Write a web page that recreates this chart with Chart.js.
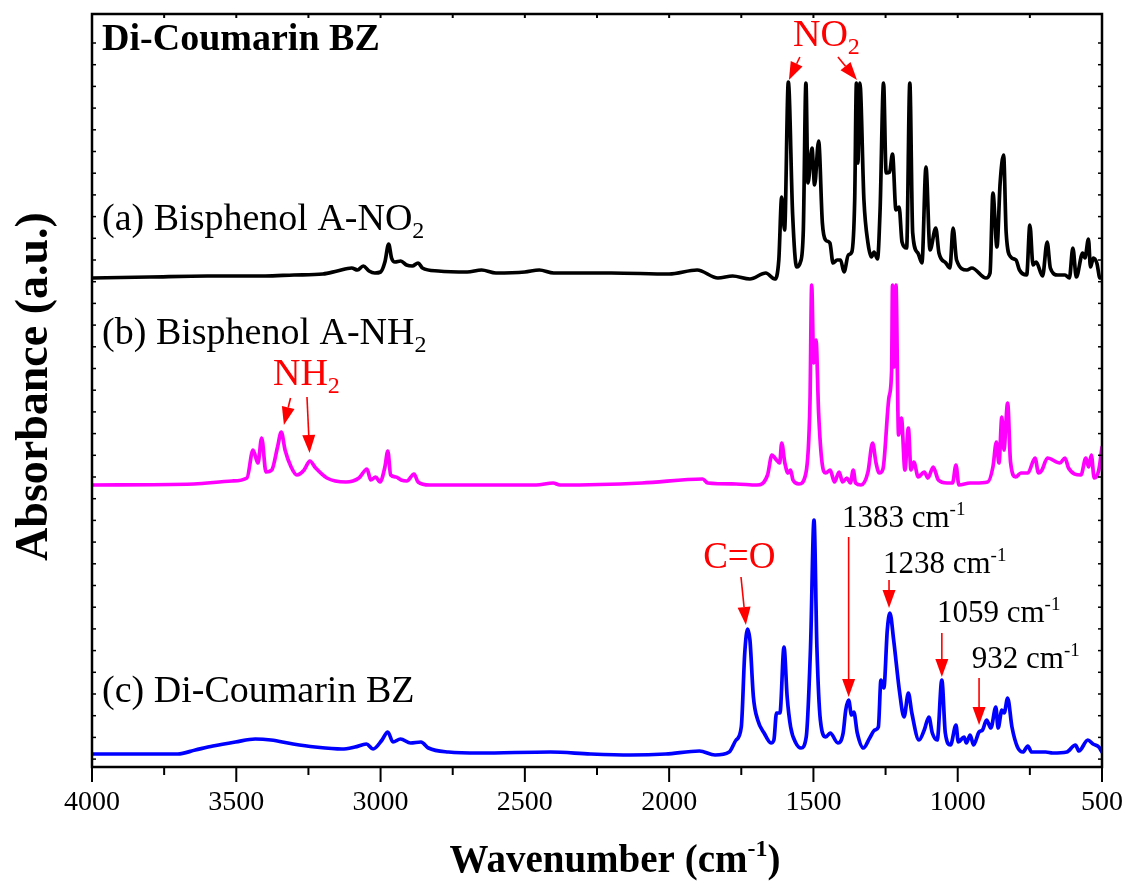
<!DOCTYPE html>
<html><head><meta charset="utf-8">
<script src="https://cdn.jsdelivr.net/npm/chart.js@4.4.1/dist/chart.umd.min.js"></script>
<style>html,body{margin:0;padding:0;background:#fff}#wrap{width:1131px;height:884px}</style>
</head><body><div id="wrap"><canvas id="c" width="1131" height="884"></canvas></div>
<script>
// ---- Data (wavenumber in cm-1, absorbance in a.u., traces already offset as plotted) ----
const wnA = [4000,3800,3600,3400,3300,3200,3150,3100,3080,3060,3040,3020,3000,2985,2972,2962,2950,2930,2910,2890,2870,2855,2800,2700,2650,2600,2500,2450,2400,2200,2000,1903,1831,1780,1720,1665,1634,1620,1610,1600,1587,1572,1558,1545,1535,1526,1519,1505,1496,1482,1469,1458,1443,1432,1418,1406,1394,1379,1367,1357,1351,1346,1339,1325,1311,1299,1290,1278,1269,1257,1248,1236,1226,1214,1203,1193,1177,1166,1156,1138,1124,1110,1096,1076,1065,1041,1027,1016,1004,968,951,902,888,878,864,853,841,832,816,798,786,761,750,739,728,706,690,679,653,628,613,601,589,567,559,547,540,530,518,507,500];
const absA = [4.89,4.90,4.91,4.91,4.92,4.93,4.96,4.99,4.97,5.01,4.96,4.94,4.95,5.05,5.23,5.09,5.05,5.06,5.02,5.01,5.04,4.99,4.96,4.95,4.97,4.94,4.95,4.97,4.94,4.94,4.93,4.97,4.89,4.91,4.88,4.94,4.88,5.07,5.70,5.37,6.85,5.52,5.00,5.05,5.37,6.84,5.84,6.19,5.82,6.26,5.44,5.27,5.24,5.04,5.07,5.07,4.95,5.12,5.15,5.67,6.84,6.04,6.84,5.67,5.24,5.10,5.15,5.08,5.57,6.84,5.94,5.95,6.13,5.57,5.60,5.25,5.19,6.84,5.34,5.14,5.04,6.00,5.17,5.39,5.14,5.04,4.99,5.39,5.07,4.97,4.99,4.89,4.94,5.74,5.20,5.84,6.12,5.34,5.10,5.07,4.97,4.92,5.42,5.02,5.05,4.91,5.25,4.99,4.92,4.92,4.89,5.19,4.90,5.14,5.09,5.28,5.00,5.09,5.04,4.89,4.89];

const wnB = [4000,3647,3515,3463,3442,3425,3412,3397,3377,3357,3344,3331,3310,3290,3265,3245,3225,3186,3120,3075,3047,3034,3017,3002,2985,2975,2965,2947,2929,2909,2884,2870,2830,2461,2402,2378,2094,1884,1866,1768,1696,1659,1644,1628,1617,1610,1599,1588,1579,1571,1550,1526,1512,1506,1499,1491,1482,1470,1457,1442,1427,1411,1399,1384,1372,1362,1354,1335,1311,1295,1283,1272,1259,1238,1229,1226,1220,1214,1205,1195,1183,1171,1162,1152,1137,1116,1103,1085,1067,1037,1018,1006,996,957,940,896,878,866,857,847,840,827,817,799,781,757,732,720,708,689,646,628,616,573,556,546,537,527,511,500];
const absB = [2.82,2.83,2.86,2.89,3.17,3.04,3.29,2.95,2.97,3.20,3.35,3.17,3.00,2.92,2.97,3.06,2.99,2.89,2.85,2.89,2.98,2.87,2.90,2.85,3.00,3.16,2.92,2.90,2.87,2.86,2.93,2.85,2.82,2.82,2.84,2.82,2.84,2.88,2.84,2.83,2.82,2.92,3.12,3.07,3.04,3.24,3.04,2.94,2.97,2.87,2.83,2.94,3.64,4.82,4.04,4.27,3.54,3.04,2.94,2.97,2.85,2.95,2.85,2.89,2.84,2.97,2.84,2.82,2.95,3.24,3.04,2.94,2.98,3.70,3.97,4.82,4.00,4.82,3.32,3.49,2.97,3.39,2.97,3.05,2.90,2.95,2.89,3.00,2.87,2.84,2.84,3.02,2.82,2.84,2.84,2.85,3.00,3.25,3.04,3.50,3.17,3.64,3.05,2.90,2.94,2.94,3.09,2.94,2.97,3.09,3.04,3.09,2.99,2.92,3.09,3.00,3.12,2.89,2.97,3.20];

const wnC = [4000,3703,3642,3581,3503,3434,3380,3303,3227,3134,3089,3049,3026,2995,2975,2957,2931,2896,2860,2834,2765,2657,2411,2272,2134,2012,1895,1841,1792,1768,1750,1738,1728,1720,1708,1693,1671,1647,1637,1628,1616,1602,1591,1579,1561,1543,1525,1510,1498,1488,1476,1457,1442,1415,1397,1388,1378,1368,1360,1348,1327,1305,1287,1275,1266,1256,1244,1235,1222,1201,1186,1171,1159,1134,1116,1100,1088,1071,1055,1043,1025,1006,998,978,970,957,945,926,914,900,885,868,860,847,839,827,812,793,774,757,744,695,671,622,592,580,549,531,511,500];
const absC = [0.13,0.13,0.17,0.21,0.25,0.28,0.27,0.23,0.20,0.18,0.20,0.23,0.18,0.27,0.35,0.25,0.28,0.24,0.25,0.19,0.15,0.14,0.15,0.13,0.12,0.13,0.16,0.12,0.15,0.27,0.40,1.14,1.38,1.27,0.70,0.47,0.34,0.24,0.27,0.54,0.54,1.20,0.70,0.40,0.24,0.19,0.30,1.20,2.47,1.20,0.47,0.30,0.34,0.24,0.34,0.57,0.67,0.52,0.55,0.34,0.19,0.29,0.37,0.40,0.87,0.79,1.37,1.54,1.27,0.74,0.50,0.74,0.54,0.27,0.37,0.50,0.34,0.27,0.87,0.34,0.22,0.42,0.25,0.30,0.24,0.32,0.22,0.35,0.37,0.47,0.39,0.60,0.39,0.57,0.54,0.69,0.40,0.20,0.15,0.21,0.15,0.15,0.14,0.15,0.22,0.16,0.27,0.23,0.20,0.15];

const seriesNames = ['(a) Bisphenol A-NO2', '(b) Bisphenol A-NH2', '(c) Di-Coumarin BZ'];
const xTickValues = [4000, 3500, 3000, 2500, 2000, 1500, 1000, 500];
const yTitle = 'Absorbance (a.u.)';
const chartTitle = 'Di-Coumarin BZ';

// ---- Annotation layout (in data coordinates) ----
const SERIF = '"Liberation Serif","Times New Roman",serif';
const textItems = [
  {parts:[[chartTitle,0]], x:3965, y:7.17, size:38, weight:'bold', color:'#000'},
  {parts:[['(a) Bisphenol A-NO',0],['2',1]], x:3965, y:5.37, size:38, weight:'normal', color:'#000'},
  {parts:[['(b) Bisphenol A-NH',0],['2',1]], x:3965, y:4.23, size:38, weight:'normal', color:'#000'},
  {parts:[['(c) Di-Coumarin BZ',0]], x:3965, y:0.65, size:38, weight:'normal', color:'#000'},
  {parts:[['NO',0],['2',1]], x:1571, y:7.21, size:38, weight:'normal', color:'#ff0000'},
  {parts:[['NH',0],['2',1]], x:3373, y:3.82, size:38, weight:'normal', color:'#ff0000'},
  {parts:[['C=O',0]], x:1882, y:1.99, size:37, weight:'normal', color:'#ff0000'},
  {parts:[['1383 cm',0],['-1',2]], x:1401, y:2.40, size:31, weight:'normal', color:'#000'},
  {parts:[['1238 cm',0],['-1',2]], x:1259, y:1.94, size:31, weight:'normal', color:'#000'},
  {parts:[['1059 cm',0],['-1',2]], x:1072, y:1.45, size:31, weight:'normal', color:'#000'},
  {parts:[['932 cm',0],['-1',2]], x:951, y:0.99, size:31, weight:'normal', color:'#000'}
];
const arrows = [
  {x1:1547, y1:7.10, x2:1585, y2:6.87},
  {x1:1415, y1:7.10, x2:1349, y2:6.87},
  {x1:3312, y1:3.69, x2:3335, y2:3.42},
  {x1:3255, y1:3.70, x2:3246, y2:3.14},
  {x1:1751, y1:1.90, x2:1734, y2:1.42},
  {x1:1378, y1:2.30, x2:1378, y2:0.70},
  {x1:1238, y1:1.87, x2:1238, y2:1.59},
  {x1:1055, y1:1.34, x2:1055, y2:0.90},
  {x1:926, y1:0.89, x2:926, y2:0.42}
];

function toPoints(xs, ys) { return xs.map((v, i) => ({x: v, y: ys[i]})); }

function drawRich(ctx, parts, x, y, size, weight, color, align) {
  const fontFor = m => `${weight} ${m ? Math.round(size * 0.62) : size}px ${SERIF}`;
  let w = 0;
  parts.forEach(([t, m]) => { ctx.font = fontFor(m); w += ctx.measureText(t).width; });
  let cx = align === 'center' ? x - w / 2 : x;
  ctx.fillStyle = color; ctx.textAlign = 'left'; ctx.textBaseline = 'alphabetic';
  parts.forEach(([t, m]) => {
    ctx.font = fontFor(m);
    const dy = m === 1 ? size * 0.22 : (m === 2 ? -size * 0.40 : 0);
    ctx.fillText(t, cx, y + dy);
    cx += ctx.measureText(t).width;
  });
}

function drawArrow(ctx, x1, y1, x2, y2) {
  const ang = Math.atan2(y2 - y1, x2 - x1);
  const hl = 18, hw = 6.5;
  const bx = x2 - hl * Math.cos(ang), by = y2 - hl * Math.sin(ang);
  ctx.strokeStyle = '#ff0000'; ctx.fillStyle = '#ff0000'; ctx.lineWidth = 1.6;
  ctx.beginPath(); ctx.moveTo(x1, y1); ctx.lineTo(bx, by); ctx.stroke();
  ctx.beginPath();
  ctx.moveTo(x2, y2);
  ctx.lineTo(bx + hw * Math.sin(ang), by - hw * Math.cos(ang));
  ctx.lineTo(bx - hw * Math.sin(ang), by + hw * Math.cos(ang));
  ctx.closePath(); ctx.fill();
}

const framePlugin = {
  id: 'frame',
  afterDraw(chart) {
    const {ctx, chartArea: a, scales: {x, y}} = chart;
    ctx.save();
    ctx.strokeStyle = '#000'; ctx.lineWidth = 2.5;
    ctx.strokeRect(a.left, a.top, a.right - a.left, a.bottom - a.top);
    ctx.lineWidth = 2;
    for (let v = 500; v <= 4000; v += 250) {
      const px = x.getPixelForValue(v);
      const major = v % 500 === 0;
      ctx.beginPath(); ctx.moveTo(px, a.bottom); ctx.lineTo(px, a.bottom + (major ? 15 : 8)); ctx.stroke();
      ctx.beginPath(); ctx.moveTo(px, a.top); ctx.lineTo(px, a.top + 4); ctx.stroke();
    }
    ctx.lineWidth = 1.5;
    for (let v = 7.24; v > 0.05; v -= 0.217) {
      const py = y.getPixelForValue(v);
      ctx.beginPath(); ctx.moveTo(a.left, py); ctx.lineTo(a.left + 4, py); ctx.stroke();
      ctx.beginPath(); ctx.moveTo(a.right, py); ctx.lineTo(a.right - 4, py); ctx.stroke();
    }
    textItems.forEach(t => drawRich(ctx, t.parts, x.getPixelForValue(t.x), y.getPixelForValue(t.y), t.size, t.weight, t.color, 'left'));
    arrows.forEach(r => drawArrow(ctx, x.getPixelForValue(r.x1), y.getPixelForValue(r.y1), x.getPixelForValue(r.x2), y.getPixelForValue(r.y2)));
    drawRich(ctx, [['Wavenumber (cm',0],['-1',2],[')',0]], (a.left + a.right) / 2 + 18, 872, 39, 'bold', '#000', 'center');
    ctx.translate(47, (a.top + a.bottom) / 2 - 4);
    ctx.rotate(-Math.PI / 2);
    drawRich(ctx, [[yTitle,0]], 0, 0, 46, 'bold', '#000', 'center');
    ctx.restore();
  }
};

new Chart(document.getElementById('c'), {
  type: 'line',
  data: {
    datasets: [
      {label: seriesNames[0], data: toPoints(wnA, absA), borderColor: '#000000'},
      {label: seriesNames[1], data: toPoints(wnB, absB), borderColor: '#ff00ff'},
      {label: seriesNames[2], data: toPoints(wnC, absC), borderColor: '#0000ff'}
    ]
  },
  options: {
    responsive: false,
    animation: false,
    devicePixelRatio: 1,
    layout: {padding: {top: 14, right: 29, left: 0, bottom: 0}},
    elements: {
      point: {radius: 0},
      line: {borderWidth: 3.7, cubicInterpolationMode: 'monotone', borderJoinStyle: 'round', borderCapStyle: 'round'}
    },
    plugins: {legend: {display: false}, tooltip: {enabled: false}},
    scales: {
      x: {
        type: 'linear', reverse: true, min: 500, max: 4000,
        afterFit(s) { s.height = 117; s.paddingLeft = 0; s.paddingRight = 0; },
        afterBuildTicks(s) { s.ticks = xTickValues.map(v => ({value: v})); },
        grid: {display: false, drawTicks: false},
        border: {display: false},
        ticks: {color: '#000', font: {family: SERIF, size: 28}, padding: 19, maxRotation: 0, autoSkip: false,
                callback: v => String(v)}
      },
      y: {
        type: 'linear', min: 0, max: 7.53,
        afterFit(s) { s.width = 92; },
        grid: {display: false, drawTicks: false},
        border: {display: false},
        ticks: {display: false}
      }
    }
  },
  plugins: [framePlugin]
});
</script>
</body></html>
